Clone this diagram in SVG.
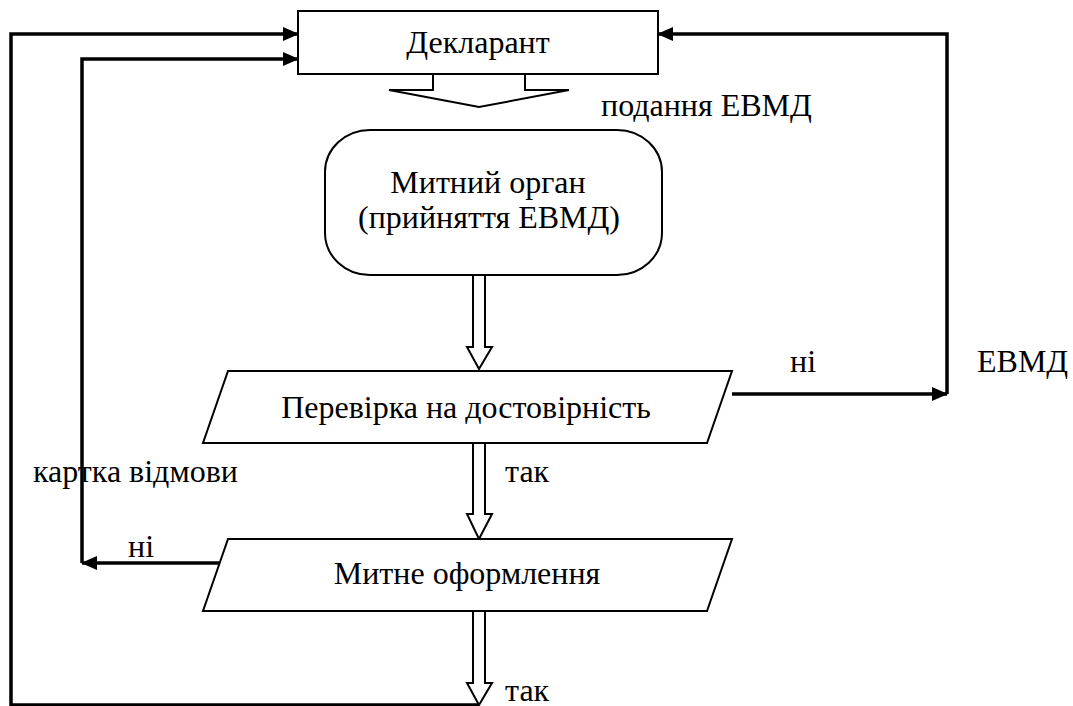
<svg xmlns="http://www.w3.org/2000/svg" width="1073" height="706" viewBox="0 0 1073 706">
<defs>
<marker id="ah" markerWidth="16" markerHeight="14" refX="15" refY="7" orient="auto" markerUnits="userSpaceOnUse">
<path d="M0,0 L16,7 L0,14 Z" fill="#000"/>
</marker>
<style>
.shape{fill:#fff;stroke:#000;stroke-width:2}
.blk{fill:#fff;stroke:#000;stroke-width:2;stroke-linejoin:miter}
.con{fill:none;stroke:#000;stroke-width:3.5}
.t{font-family:'Liberation Serif','Times New Roman','DejaVu Serif',serif;font-size:32px;fill:#000}
.c{text-anchor:middle}
</style>
</defs>
<rect width="1073" height="706" fill="#fff"/>
<g id="connectors">
<path class="con" d="M479,705 L11,705 L11,34 L298,34" marker-end="url(#ah)"/>
<path class="con" d="M82,563 L82,59 L298,59" marker-end="url(#ah)"/>
<path class="con" d="M227,563 L82,563" marker-end="url(#ah)"/>
<path class="con" d="M732,394 L947,394" marker-end="url(#ah)"/>
<path class="con" d="M947,394 L947,34 L658,34" marker-end="url(#ah)"/>
<path class="blk" d="M433,74 L433,90 L389,90 L479,107 L569,90 L525,90 L525,74"/>
<path class="blk" d="M473,275 L473,347 L467,347 L479,369 L492,347 L485,347 L485,275"/>
<path class="blk" d="M473,443 L473,514 L467,514 L479,539 L492,514 L485,514 L485,443"/>
<path class="blk" d="M473,611 L473,683 L467,683 L479,705 L492,683 L485,683 L485,611"/>
</g>
<g id="declarant">
<rect class="shape" x="298" y="11" width="360" height="63"/>
<text class="t c" x="478" y="53">Декларант</text>
</g>
<g id="customs-body">
<rect class="shape" x="325" y="130" width="337" height="145" rx="45" ry="42"/>
<text class="t c" x="488" y="193">Митний орган</text>
<text class="t c" x="489" y="228">(прийняття ЕВМД)</text>
</g>
<g id="verification">
<path class="shape" d="M228,371 L732,371 L707,443 L203,443 Z"/>
<text class="t c" x="466" y="418">Перевірка на достовірність</text>
</g>
<g id="clearance">
<path class="shape" d="M228,539 L732,539 L707,611 L203,611 Z"/>
<text class="t c" x="467" y="584">Митне оформлення</text>
</g>
<g id="labels">
<text class="t" x="601" y="116">подання ЕВМД</text>
<text class="t" x="790" y="372">ні</text>
<text class="t" x="977" y="372">ЕВМД</text>
<text class="t" x="33" y="482">картка відмови</text>
<text class="t" x="505" y="482">так</text>
<text class="t" x="128" y="557">ні</text>
<text class="t" x="505" y="701">так</text>
</g>
</svg>
